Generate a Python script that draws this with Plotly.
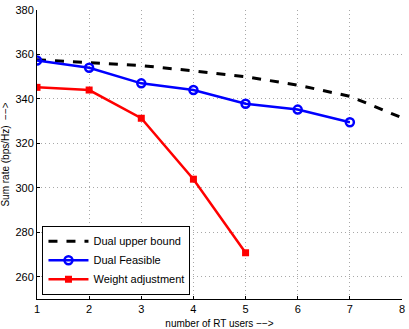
import plotly.graph_objects as go

x_ub = [1, 2, 3, 4, 5, 6, 7, 8]
ub = [357.6, 356.4, 355.0, 352.6, 350.0, 346.2, 341.2, 331.5]
x_df = [1, 2, 3, 4, 5, 6, 7]
df = [357.3, 354.0, 347.0, 344.0, 337.8, 335.2, 329.5]
x_wa = [1, 2, 3, 4, 5]
wa = [345.2, 344.0, 331.3, 303.9, 270.8]

fig = go.Figure()
fig.add_trace(go.Scatter(x=x_ub, y=ub, mode="lines", name="Dual upper bound",
                         line=dict(color="black", width=3, dash="dash")))
fig.add_trace(go.Scatter(x=x_df, y=df, mode="lines+markers", name="Dual Feasible",
                         line=dict(color="blue", width=2.5),
                         marker=dict(symbol="circle-open", size=8, color="blue", line=dict(width=2.5))))
fig.add_trace(go.Scatter(x=x_wa, y=wa, mode="lines+markers", name="Weight adjustment",
                         line=dict(color="red", width=2.5),
                         marker=dict(symbol="square", size=7, color="red")))

font = "Liberation Sans, Arial, sans-serif"
fig.update_layout(
    width=409, height=329,
    margin=dict(l=37, r=7, t=10, b=30),
    paper_bgcolor="white", plot_bgcolor="white",
    font=dict(family=font, size=11, color="black"),
    showlegend=True,
    legend=dict(x=0.015, y=0.015, xanchor="left", yanchor="bottom",
                bordercolor="black", borderwidth=1, bgcolor="white",
                font=dict(size=11), tracegroupgap=0, itemwidth=40),
    xaxis=dict(range=[1, 8], tickvals=[1, 2, 3, 4, 5, 6, 7, 8],
               showgrid=True, gridcolor="#a8a8a8", griddash="1px,3px", gridwidth=1,
               showline=True, linecolor="black", linewidth=1,
               ticks="inside", ticklen=3, tickcolor="black", automargin=False,
               zeroline=False, tickfont=dict(size=11),
               title=dict(text="number of RT users −−>", font=dict(size=10), standoff=8)),
    yaxis=dict(range=[250, 380], tickvals=[260, 280, 300, 320, 340, 360, 380],
               showgrid=True, gridcolor="#a8a8a8", griddash="1px,3px", gridwidth=1,
               showline=True, linecolor="black", linewidth=1,
               ticks="inside", ticklen=3, tickcolor="black", automargin=False,
               zeroline=False, tickfont=dict(size=11),
               title=dict(text="Sum rate (bps/Hz)  −−>", font=dict(size=10), standoff=6)),
)
fig.write_html("out.html")
